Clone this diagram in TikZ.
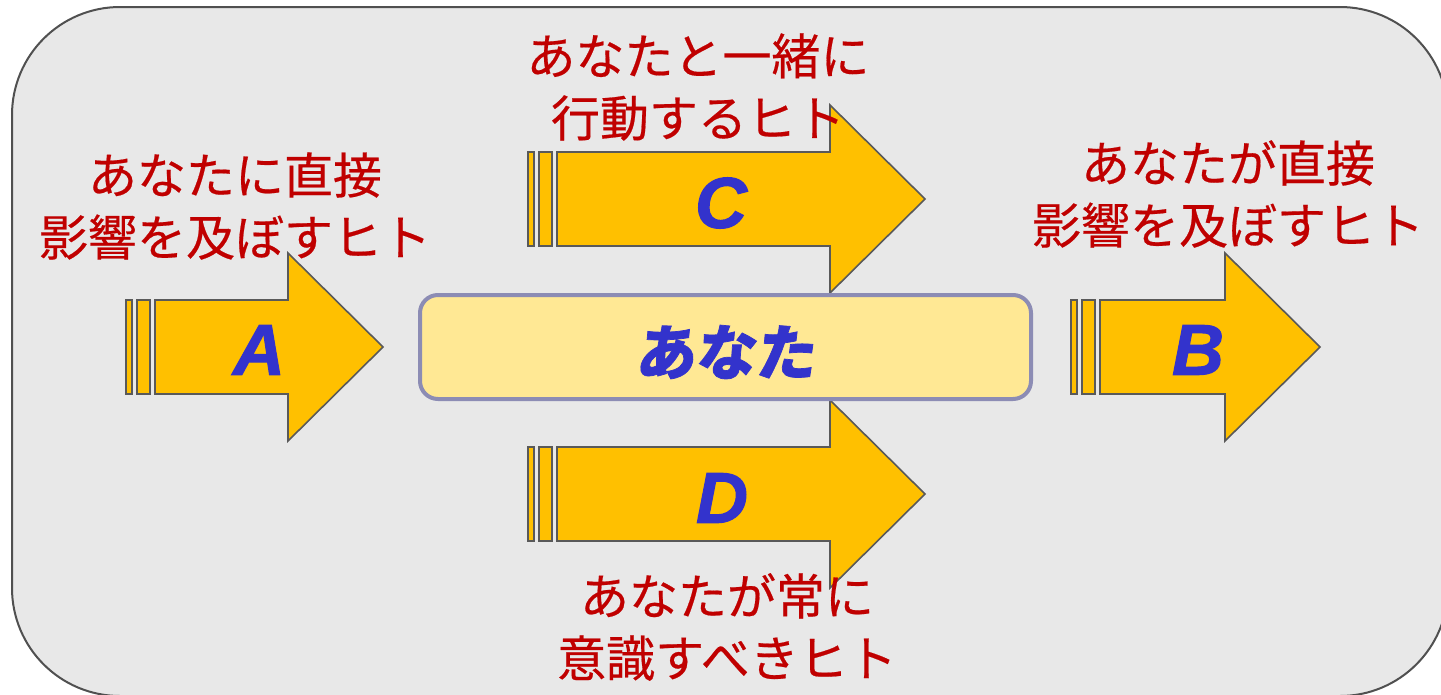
\documentclass[tikz,border=0pt]{standalone}
\usepackage{fontspec}
\newfontfamily\jp{Noto Sans CJK JP}[FakeBold=0.4]
\newfontfamily\jpslant{Noto Sans CJK JP}[FakeSlant=0.12, BoldFeatures={FakeBold=1.2}]
\newfontfamily\lat{Liberation Sans}[BoldItalicFeatures={FakeBold=1.5}]
\definecolor{bgfill}{HTML}{E8E8E8}
\definecolor{bgline}{HTML}{505050}
\definecolor{arrfill}{HTML}{FFC000}
\definecolor{arrline}{HTML}{595959}
\definecolor{mefill}{HTML}{FFE894}
\definecolor{meline}{HTML}{8C8CB4}
\definecolor{redtxt}{HTML}{C00000}
\definecolor{bluetxt}{HTML}{3333CC}
\tikzset{
  bgbox/.style={draw=bgline, fill=bgfill, line width=2pt, rounded corners=108pt},
  arr/.style={draw=arrline, fill=arrfill, line width=1.6pt, line join=miter},
  mebox/.style={draw=meline, fill=mefill, line width=4pt, rounded corners=18pt,
    inner sep=0pt, minimum width=611pt, minimum height=104pt},
  redlabel/.style={text=redtxt, align=center, inner sep=0pt,
    font=\jp\fontsize{49}{62}\selectfont},
  letter/.style={text=bluetxt, inner sep=0pt,
    font=\lat\bfseries\itshape\fontsize{72}{72}\selectfont},
  metext/.style={text=bluetxt, inner sep=0pt,
    font=\jpslant\bfseries\fontsize{60}{60}\selectfont}
}
% #1 body start x, #2 centre y, #3 head start x, #4 tip x
\newcommand\fatarrow[4]{%
  \draw[arr] (#1-29,#2-47) rectangle (#1-23,#2+47);
  \draw[arr] (#1-18,#2-47) rectangle (#1-5,#2+47);
  \draw[arr] (#1,#2-47) -- (#3,#2-47) -- (#3,#2-94) -- (#4,#2)
    -- (#3,#2+94) -- (#3,#2+47) -- (#1,#2+47) -- cycle;
}
\begin{document}
\begin{tikzpicture}[x=1pt, y=-1pt]
\useasboundingbox (0,0) rectangle (1441,694);
\clip (0,0) rectangle (1441,694);
\draw[bgbox] (12,7) rectangle (1448,696);

\fatarrow{155}{347}{288}{383}
\fatarrow{557}{199}{830}{925}
\fatarrow{557}{494}{830}{925}
\fatarrow{1100}{347}{1225}{1320}

\node[mebox] (me) at (725.5,347) {};
\node[metext] (metxt) at (725,352) {あなた};

\node[letter] (la) at (259,350) {A};
\node[letter] (lc) at (721,203) {C};
\node[letter] (ld) at (722,498) {D};
\node[letter] (lb) at (1198,350) {B};

\node[redlabel] (ta) at (235,206) {あなたに直接\\影響を及ぼすヒト};
\node[redlabel] (tc) at (698,87) {あなたと一緒に\\行動するヒト};
\node[redlabel] (tb) at (1228,194) {あなたが直接\\影響を及ぼすヒト};
\node[redlabel] (td) at (727,627) {あなたが常に\\意識すべきヒト};
\end{tikzpicture}
\end{document}
